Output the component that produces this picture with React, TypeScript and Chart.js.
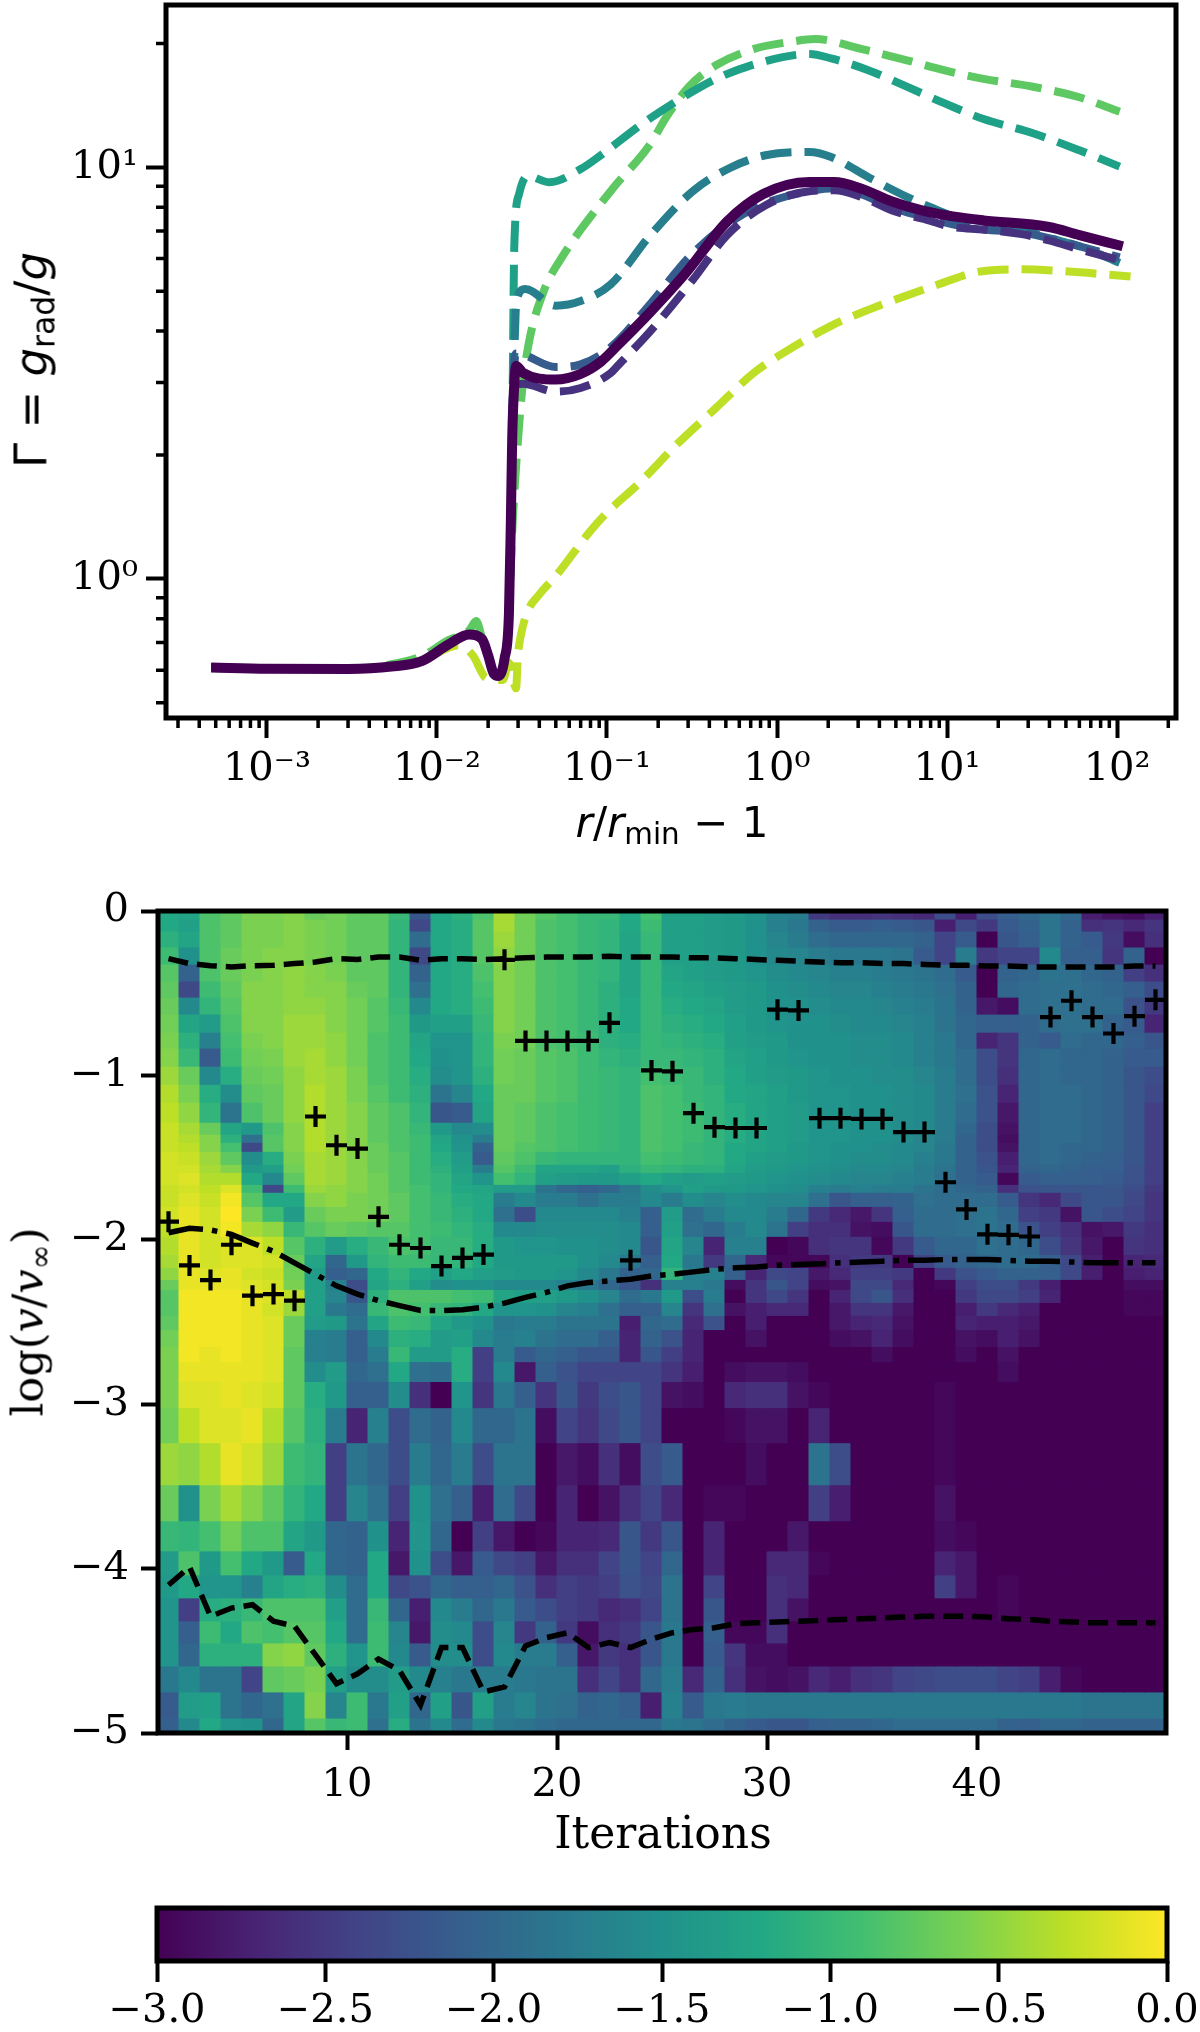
import { useEffect, useRef } from "react";
import { Chart, registerables } from "chart.js";

Chart.register(...registerables);

// top panel: shared start of every profile, r/rmin - 1 and Gamma
const sharedR = [4.7e-4, 1e-3, 3e-3, 5.4e-3, 8.2e-3, 1.17e-2, 1.55e-2, 1.84e-2, 2e-2, 2.16e-2, 2.3e-2, 2.5e-2, 2.65e-2, 2.72e-2, 2.77e-2];
const sharedG = [0.609, 0.605, 0.604, 0.612, 0.632, 0.693, 0.732, 0.714, 0.652, 0.588, 0.581, 0.641, 0.821, 1.38, 2.19];

const solidR = [...sharedR, 2.85e-2, 2.93e-2, 3.2e-2, 5e-2, 7e-2, 0.092, 0.116, 0.18, 0.288, 0.508, 0.83, 1.55, 2.17, 3.12, 4.75, 7.2, 10.8, 16.4, 39.8, 60, 108];
const solidG = [...sharedG, 2.98, 3.29, 3.17, 3.05, 3.15, 3.37, 3.7, 4.45, 5.51, 7.38, 8.61, 9.21, 9.21, 8.88, 8.26, 7.85, 7.6, 7.43, 7.16, 6.84, 6.43];

const purpleR = [...sharedR, 2.85e-2, 3.2e-2, 5e-2, 7e-2, 0.105, 0.116, 0.18, 0.32, 0.508, 0.857, 1.55, 2.17, 3.12, 4.75, 7.2, 10.8, 16.4, 27.5, 39.8, 60, 103.5];
const purpleG = [...sharedG, 2.9, 2.98, 2.85, 2.91, 3.16, 3.3, 4.0, 5.33, 6.84, 8.09, 8.75, 8.79, 8.48, 7.86, 7.5, 7.16, 7.06, 6.88, 6.64, 6.32, 5.95];

const blueR = [...sharedR, 2.85e-2, 2.93e-2, 5e-2, 7e-2, 0.105, 0.18, 0.303, 0.508, 0.857, 1.55, 2.17, 3.12, 4.75, 7.2, 10.8, 16.4, 27.5, 39.8, 60, 103.5];
const blueG = [...sharedG, 3.3, 3.53, 3.27, 3.32, 3.65, 4.66, 6.04, 7.27, 8.18, 8.75, 8.89, 8.61, 7.98, 7.6, 7.27, 7.06, 6.95, 6.73, 6.43, 6.04];

const tealR = [...sharedR, 2.85e-2, 2.93e-2, 3.3e-2, 5e-2, 7e-2, 0.105, 0.18, 0.32, 0.537, 0.857, 1.55, 2.08, 3.47, 5.8, 8.85, 10.8, 16.4, 27.5, 39.8, 60, 103.5];
const tealG = [...sharedG, 3.5, 4.73, 5.06, 4.61, 4.73, 5.19, 6.84, 8.75, 10.0, 10.7, 10.9, 10.6, 9.45, 8.48, 7.86, 7.6, 7.39, 7.06, 6.73, 6.43, 5.86];

const seaR = [...sharedR, 2.85e-2, 3.04e-2, 3.4e-2, 4.6e-2, 7e-2, 0.092, 0.163, 0.272, 0.437, 0.81, 1.55, 2.08, 3.47, 5.8, 9.7, 16.4, 32, 60, 103.5];
const seaG = [...sharedG, 6.42, 8.61, 9.53, 9.2, 9.9, 10.7, 12.8, 14.7, 16.4, 18.0, 18.85, 18.4, 17.2, 15.7, 14.3, 13.1, 12.1, 11.0, 10.04];

const greenR = [4.7e-4, 1e-3, 3e-3, 5.4e-3, 8.2e-3, 1.17e-2, 1.55e-2, 1.7e-2, 1.84e-2, 2e-2, 2.16e-2, 2.3e-2, 2.5e-2, 2.65e-2, 2.77e-2, 3e-2, 3.2e-2, 3.5e-2, 4.27e-2, 5.3e-2, 0.105, 0.18, 0.222, 0.303, 0.437, 0.733, 1.22, 1.67, 3.12, 5.8, 9.7, 16.4, 32, 60, 103.5];
const greenG = [0.609, 0.605, 0.604, 0.62, 0.65, 0.71, 0.75, 0.79, 0.72, 0.65, 0.59, 0.58, 0.64, 0.82, 1.3, 2.19, 2.98, 3.81, 5.03, 5.95, 8.75, 11.4, 13.2, 15.7, 17.7, 19.4, 20.2, 20.5, 19.4, 18.2, 17.2, 16.4, 15.7, 14.8, 13.65];

const limeR = [4.7e-4, 1e-3, 3e-3, 5.4e-3, 8.2e-3, 1.17e-2, 1.33e-2, 1.62e-2, 1.95e-2, 2.44e-2, 2.65e-2, 2.92e-2, 2.99e-2, 3.12e-2, 3.41e-2, 3.98e-2, 5.04e-2, 0.079, 0.097, 0.155, 0.26, 0.437, 0.733, 1.22, 2.08, 3.47, 5.8, 9.7, 14.8, 27.5, 46, 120];
const limeG = [0.609, 0.605, 0.604, 0.615, 0.635, 0.68, 0.69, 0.653, 0.574, 0.568, 0.624, 0.542, 0.647, 0.731, 0.833, 0.914, 1.02, 1.3, 1.43, 1.71, 2.13, 2.6, 3.17, 3.64, 4.12, 4.51, 4.88, 5.26, 5.56, 5.65, 5.6, 5.43];

const rMajorTicks = [1e-3, 1e-2, 1e-1, 1, 10, 100];
const rMinorTicks = [3e-4, 4e-4, 5e-4, 6e-4, 7e-4, 8e-4, 9e-4, 2e-3, 3e-3, 4e-3, 5e-3, 6e-3, 7e-3, 8e-3, 9e-3, 2e-2, 3e-2, 4e-2, 5e-2, 6e-2, 7e-2, 8e-2, 9e-2, 0.2, 0.3, 0.4, 0.5, 0.6, 0.7, 0.8, 0.9, 2, 3, 4, 5, 6, 7, 8, 9, 20, 30, 40, 50, 60, 70, 80, 90, 200];
const gMajorTicks = [1, 10];
const gMinorTicks = [0.5, 0.6, 0.7, 0.8, 0.9, 2, 3, 4, 5, 6, 7, 8, 9, 20];

// heat map: iteration centres, row edges in log(v/vinf), log values per row
const iterations = [1.5, 2.5, 3.5, 4.5, 5.5, 6.5, 7.5, 8.5, 9.5, 10.5, 11.5, 12.5, 13.5, 14.5, 15.5, 16.5, 17.5, 18.5, 19.5, 20.5, 21.5, 22.5, 23.5, 24.5, 25.5, 26.5, 27.5, 28.5, 29.5, 30.5, 31.5, 32.5, 33.5, 34.5, 35.5, 36.5, 37.5, 38.5, 39.5, 40.5, 41.5, 42.5, 43.5, 44.5, 45.5, 46.5, 47.5, 48.5];
const rowEdges = [0, -0.049, -0.122, -0.219, -0.323, -0.426, -0.524, -0.627, -0.737, -0.834, -0.944, -1.054, -1.163, -1.285, -1.358, -1.407, -1.462, -1.541, -1.59, -1.663, -1.711, -1.797, -1.888, -1.979, -2.089, -2.168, -2.241, -2.302, -2.381, -2.46, -2.546, -2.649, -2.741, -2.862, -3.021, -3.234, -3.49, -3.709, -3.892, -4.038, -4.178, -4.318, -4.452, -4.592, -4.75, -4.909, -5];
const heatRows = [
  [-1.2, -1.25, -0.85, -0.75, -0.6, -0.6, -0.55, -0.7, -0.65, -0.75, -0.75, -1.0, -2.2, -1.2, -1.1, -0.85, -0.4, -0.65, -0.8, -0.9, -1.0, -1.0, -1.2, -0.9, -1.3, -1.3, -1.35, -1.4, -1.5, -1.7, -1.75, -2.5, -2.6, -2.6, -2.55, -2.6, -2.65, -2.3, -2.75, -2.3, -2.1, -2.0, -1.85, -2.0, -2.75, -2.85, -2.9, -2.75],
  [-1.2, -1.3, -0.85, -0.75, -0.6, -0.6, -0.55, -0.6, -0.65, -0.75, -0.75, -1.05, -2.35, -1.2, -1.15, -0.8, -0.4, -0.65, -0.85, -0.9, -1.0, -1.05, -1.2, -0.95, -1.3, -1.3, -1.35, -1.4, -1.5, -1.7, -1.8, -2.05, -2.15, -2.15, -2.1, -2.15, -2.2, -2.75, -2.35, -2.5, -2.15, -2.05, -1.85, -2.05, -2.6, -2.55, -2.65, -2.55],
  [-1.1, -1.25, -0.85, -0.75, -0.6, -0.6, -0.55, -0.6, -0.65, -0.75, -0.75, -1.05, -1.95, -1.2, -1.15, -0.8, -0.45, -0.65, -0.85, -0.9, -1.0, -1.05, -1.25, -1.0, -1.3, -1.3, -1.35, -1.4, -1.5, -1.65, -1.75, -1.95, -2.0, -2.0, -2.0, -2.0, -2.05, -2.4, -2.15, -3.0, -2.2, -2.1, -1.85, -2.05, -2.15, -2.5, -2.9, -2.6],
  [-0.95, -1.5, -0.85, -0.7, -0.6, -0.55, -0.55, -0.6, -0.65, -0.75, -0.75, -1.05, -2.35, -1.2, -1.15, -0.8, -0.5, -0.65, -0.85, -0.9, -1.0, -1.05, -1.25, -1.0, -1.3, -1.3, -1.35, -1.4, -1.5, -1.6, -1.65, -1.75, -1.8, -1.8, -1.8, -1.85, -2.15, -2.4, -1.75, -2.5, -2.4, -2.4, -1.6, -2.1, -2.1, -2.55, -2.05, -3.0],
  [-0.8, -2.05, -0.85, -0.7, -0.6, -0.55, -0.5, -0.55, -0.6, -0.75, -0.75, -1.05, -2.05, -1.2, -1.15, -0.85, -0.55, -0.65, -0.85, -0.9, -1.0, -1.05, -1.25, -1.0, -1.25, -1.3, -1.35, -1.4, -1.45, -1.55, -1.6, -1.65, -1.7, -1.7, -1.75, -1.8, -1.85, -1.95, -2.15, -3.0, -2.05, -2.0, -1.85, -1.9, -2.0, -2.05, -2.45, -2.6],
  [-0.75, -2.35, -0.95, -0.75, -0.55, -0.55, -0.5, -0.55, -0.55, -0.7, -0.75, -1.05, -1.9, -1.2, -1.15, -0.9, -0.55, -0.65, -0.85, -0.9, -1.0, -1.1, -1.25, -1.0, -1.2, -1.25, -1.3, -1.35, -1.4, -1.5, -1.55, -1.6, -1.65, -1.65, -1.7, -1.75, -1.8, -1.9, -2.05, -3.0, -2.0, -1.95, -1.9, -1.9, -1.95, -2.0, -2.1, -2.3],
  [-0.7, -1.6, -1.05, -0.8, -0.55, -0.55, -0.5, -0.5, -0.55, -0.65, -0.8, -1.0, -1.6, -1.2, -1.15, -0.95, -0.55, -0.65, -0.85, -0.9, -1.0, -1.1, -1.2, -1.0, -1.15, -1.2, -1.25, -1.35, -1.4, -1.5, -1.5, -1.55, -1.6, -1.6, -1.65, -1.7, -1.75, -1.85, -2.05, -2.8, -2.9, -1.95, -1.9, -1.9, -1.95, -1.95, -2.25, -2.5],
  [-0.65, -1.25, -1.35, -0.85, -0.55, -0.55, -0.45, -0.45, -0.55, -0.65, -0.8, -0.95, -1.4, -1.3, -1.3, -1.0, -0.55, -0.65, -0.85, -0.9, -1.0, -1.1, -1.2, -1.0, -1.1, -1.15, -1.2, -1.3, -1.4, -1.45, -1.5, -1.5, -1.55, -1.6, -1.6, -1.65, -1.7, -1.85, -2.0, -2.1, -2.1, -2.05, -1.95, -1.9, -1.9, -2.05, -2.15, -2.7],
  [-0.6, -1.1, -1.7, -0.9, -0.6, -0.55, -0.45, -0.45, -0.5, -0.65, -0.85, -0.95, -1.25, -1.45, -1.45, -1.05, -0.6, -0.65, -0.85, -0.9, -0.95, -1.1, -1.15, -1.0, -1.05, -1.1, -1.15, -1.3, -1.35, -1.4, -1.5, -1.5, -1.5, -1.55, -1.55, -1.6, -1.7, -1.8, -2.0, -2.7, -2.55, -2.05, -2.15, -1.95, -2.0, -2.0, -2.1, -2.2],
  [-0.55, -1.0, -2.15, -0.95, -0.65, -0.6, -0.45, -0.4, -0.5, -0.65, -0.85, -0.95, -1.2, -1.5, -1.45, -1.05, -0.65, -0.7, -0.8, -0.85, -0.95, -1.05, -1.1, -1.0, -1.0, -1.05, -1.1, -1.25, -1.3, -1.4, -1.45, -1.5, -1.5, -1.55, -1.55, -1.6, -1.7, -1.8, -1.95, -2.3, -2.55, -2.0, -1.95, -2.0, -2.0, -2.05, -2.15, -2.15],
  [-0.45, -0.7, -1.6, -1.15, -0.7, -0.65, -0.5, -0.4, -0.45, -0.6, -0.85, -0.95, -1.15, -1.55, -1.45, -1.1, -0.65, -0.7, -0.8, -0.85, -0.95, -1.0, -1.05, -0.9, -0.95, -1.0, -1.1, -1.2, -1.3, -1.35, -1.4, -1.45, -1.5, -1.5, -1.55, -1.55, -1.65, -1.75, -1.95, -2.3, -2.6, -2.0, -1.95, -2.0, -2.0, -2.05, -2.2, -2.3],
  [-0.35, -0.6, -1.15, -1.55, -0.75, -0.7, -0.5, -0.35, -0.45, -0.6, -0.8, -0.95, -1.1, -1.85, -1.65, -1.2, -0.7, -0.7, -0.8, -0.85, -0.95, -1.0, -1.05, -0.85, -0.9, -1.0, -1.05, -1.2, -1.25, -1.3, -1.4, -1.45, -1.45, -1.5, -1.5, -1.55, -1.6, -1.75, -1.9, -2.25, -2.7, -2.0, -1.95, -1.95, -2.0, -2.05, -2.2, -2.35],
  [-0.3, -0.5, -1.05, -1.85, -0.85, -0.7, -0.5, -0.35, -0.45, -0.55, -0.75, -0.85, -1.05, -2.2, -2.15, -1.25, -0.7, -0.75, -0.85, -0.9, -0.95, -1.0, -1.05, -0.85, -0.9, -0.95, -1.05, -1.15, -1.25, -1.3, -1.35, -1.45, -1.45, -1.5, -1.5, -1.55, -1.6, -1.75, -1.95, -2.25, -2.8, -2.0, -1.95, -1.95, -2.0, -2.05, -2.2, -2.45],
  [-0.25, -0.4, -0.7, -1.25, -1.4, -0.85, -0.55, -0.35, -0.45, -0.55, -0.75, -0.85, -1.0, -1.4, -1.6, -1.55, -0.7, -0.75, -0.85, -0.9, -0.95, -1.0, -1.05, -0.85, -0.9, -0.95, -1.05, -1.15, -1.25, -1.3, -1.35, -1.45, -1.45, -1.5, -1.5, -1.55, -1.6, -1.75, -2.0, -2.3, -2.85, -2.0, -1.95, -1.95, -2.0, -2.05, -2.2, -2.45],
  [-0.25, -0.35, -0.55, -1.1, -1.9, -0.8, -0.55, -0.35, -0.45, -0.55, -0.75, -0.85, -0.95, -1.25, -1.5, -1.75, -0.7, -0.75, -0.85, -0.9, -0.95, -1.0, -1.05, -0.85, -0.9, -0.95, -1.05, -1.15, -1.25, -1.3, -1.35, -1.45, -1.45, -1.5, -1.5, -1.55, -1.65, -1.75, -2.05, -2.3, -2.9, -2.0, -1.95, -1.95, -2.0, -2.05, -2.2, -2.45],
  [-0.25, -0.3, -0.55, -0.9, -2.35, -0.8, -0.55, -0.35, -0.45, -0.55, -0.7, -0.85, -0.95, -1.2, -1.45, -2.05, -0.7, -0.8, -0.85, -0.9, -0.95, -1.0, -1.05, -0.85, -0.9, -1.0, -1.05, -1.2, -1.25, -1.3, -1.4, -1.45, -1.5, -1.5, -1.55, -1.6, -1.65, -1.8, -2.05, -2.3, -2.85, -2.0, -1.95, -2.0, -2.0, -2.05, -2.2, -2.45],
  [-0.2, -0.25, -0.45, -0.75, -1.55, -1.15, -0.6, -0.4, -0.45, -0.55, -0.7, -0.8, -0.95, -1.15, -1.35, -2.15, -0.75, -0.85, -1.0, -1.05, -1.05, -1.05, -1.05, -0.9, -0.95, -1.0, -1.05, -1.2, -1.3, -1.35, -1.4, -1.45, -1.5, -1.55, -1.55, -1.6, -1.7, -1.8, -2.05, -2.25, -2.75, -2.0, -1.95, -2.0, -2.05, -2.1, -2.2, -2.45],
  [-0.2, -0.2, -0.4, -0.55, -1.4, -1.3, -0.65, -0.4, -0.45, -0.55, -0.7, -0.8, -0.95, -1.1, -1.3, -1.75, -0.8, -0.95, -1.25, -1.25, -1.25, -1.3, -1.1, -1.0, -1.05, -1.1, -1.1, -1.25, -1.35, -1.4, -1.45, -1.5, -1.55, -1.6, -1.6, -1.65, -1.75, -1.85, -2.05, -2.2, -2.7, -2.05, -2.0, -2.05, -2.1, -2.1, -2.25, -2.45],
  [-0.2, -0.15, -0.35, -0.35, -1.2, -1.6, -0.75, -0.4, -0.45, -0.55, -0.65, -0.8, -0.95, -1.05, -1.25, -1.45, -0.9, -1.05, -1.3, -1.35, -1.4, -1.4, -1.3, -1.2, -1.3, -1.35, -1.3, -1.35, -1.4, -1.45, -1.5, -1.55, -1.6, -1.65, -1.65, -1.7, -1.75, -1.9, -2.05, -2.15, -2.95, -2.15, -2.1, -2.1, -2.1, -2.15, -2.25, -2.45],
  [-0.25, -0.2, -0.3, -0.15, -0.95, -2.35, -0.95, -0.45, -0.5, -0.55, -0.65, -0.8, -0.9, -1.05, -1.2, -1.25, -1.35, -1.35, -1.85, -2.0, -2.1, -2.0, -1.8, -1.55, -1.45, -1.3, -1.4, -1.4, -1.45, -1.5, -1.55, -1.7, -1.75, -1.7, -1.75, -1.75, -1.85, -1.95, -2.0, -2.05, -2.6, -2.25, -2.2, -2.2, -2.2, -2.2, -2.3, -2.5],
  [-0.25, -0.15, -0.25, -0.05, -0.8, -1.2, -1.2, -0.55, -0.5, -0.6, -0.65, -0.75, -0.9, -1.0, -1.15, -1.2, -1.75, -1.6, -1.75, -1.75, -1.9, -1.75, -1.75, -1.6, -1.75, -1.55, -1.65, -1.55, -1.6, -1.65, -1.65, -1.9, -2.2, -2.1, -2.1, -2.05, -1.9, -1.95, -1.95, -1.95, -2.15, -2.55, -2.65, -2.35, -2.2, -2.2, -2.35, -2.55],
  [-0.2, -0.1, -0.2, 0, -0.6, -0.95, -1.35, -0.7, -0.6, -0.6, -0.65, -0.75, -0.9, -1.0, -1.1, -1.2, -1.9, -2.3, -1.6, -1.6, -1.6, -1.6, -1.7, -2.1, -1.35, -1.95, -1.75, -1.6, -1.6, -1.75, -2.0, -2.5, -2.65, -2.8, -2.55, -2.1, -1.95, -1.95, -1.9, -1.85, -2.0, -2.45, -2.5, -2.85, -2.2, -2.3, -2.4, -2.55],
  [-0.3, -0.1, -0.2, -0.05, -0.4, -0.5, -1.0, -0.8, -0.7, -0.75, -0.8, -0.8, -0.9, -0.95, -1.05, -1.15, -1.6, -1.6, -1.55, -1.55, -1.55, -1.55, -1.6, -2.1, -1.3, -1.9, -2.0, -1.75, -1.6, -1.85, -2.45, -2.6, -2.6, -2.85, -2.9, -2.2, -1.95, -1.95, -1.9, -1.85, -1.95, -2.25, -2.45, -2.6, -2.85, -2.8, -2.5, -2.6],
  [-0.35, -0.1, -0.2, -0.15, -0.15, -0.3, -0.8, -1.1, -1.35, -1.15, -1.0, -0.85, -0.9, -1.0, -1.0, -1.15, -1.4, -1.45, -1.45, -1.5, -1.5, -1.55, -1.6, -2.2, -1.25, -1.65, -2.7, -1.7, -1.7, -3.0, -2.95, -2.6, -2.55, -2.55, -2.95, -2.5, -2.15, -2.0, -2.0, -1.9, -1.95, -2.0, -2.3, -2.55, -2.8, -3.0, -2.55, -2.6],
  [-0.4, -0.1, -0.2, -0.15, -0.15, -0.2, -0.7, -1.25, -2.0, -1.4, -1.05, -0.95, -0.95, -1.0, -1.05, -1.2, -1.4, -1.4, -1.4, -1.4, -1.5, -1.6, -1.8, -2.1, -1.2, -1.8, -2.5, -2.0, -2.65, -2.95, -2.95, -2.95, -2.6, -2.5, -2.5, -3.0, -2.4, -2.15, -2.05, -2.0, -1.95, -1.95, -2.1, -2.35, -2.75, -3.0, -2.7, -2.65],
  [-0.5, -0.1, -0.15, -0.1, -0.2, -0.25, -0.65, -1.35, -2.1, -2.0, -1.2, -1.05, -1.2, -1.3, -1.2, -1.3, -1.35, -1.4, -1.4, -1.45, -1.6, -1.8, -2.05, -2.0, -1.05, -1.7, -1.7, -2.1, -2.7, -2.35, -2.4, -2.8, -2.65, -2.45, -2.45, -2.5, -3.0, -2.5, -2.25, -2.15, -2.05, -2.05, -2.1, -2.35, -2.75, -3.0, -2.75, -2.7],
  [-0.7, -0.1, -0.1, -0.1, -0.15, -0.2, -0.6, -1.3, -1.7, -2.3, -1.25, -1.1, -1.3, -1.55, -1.5, -1.5, -1.6, -1.6, -1.6, -1.7, -1.8, -2.0, -2.2, -2.6, -1.7, -1.7, -1.8, -2.9, -2.55, -2.2, -2.4, -2.9, -2.85, -2.35, -2.35, -2.65, -3.0, -2.95, -2.45, -2.3, -2.3, -2.5, -2.75, -3.0, -3.0, -3.0, -2.9, -2.9],
  [-0.8, -0.05, -0.05, -0.05, -0.1, -0.15, -0.3, -1.3, -1.65, -2.2, -1.1, -0.85, -0.85, -0.85, -0.9, -0.95, -1.25, -1.3, -1.3, -1.4, -1.5, -1.65, -1.95, -1.8, -1.4, -2.3, -1.75, -3.0, -2.55, -2.35, -2.55, -3.0, -2.7, -2.35, -2.2, -2.6, -3.0, -3.0, -2.5, -2.35, -2.35, -2.45, -2.7, -3.0, -3.0, -3.0, -2.95, -2.95],
  [-0.8, -0.05, -0.05, -0.05, -0.1, -0.2, -0.45, -1.3, -1.8, -1.95, -1.0, -0.85, -0.9, -1.0, -1.05, -1.2, -1.45, -1.45, -1.5, -1.65, -1.7, -1.9, -2.1, -2.1, -1.65, -2.55, -1.9, -2.85, -2.75, -2.65, -2.65, -3, -2.8, -2.55, -2.55, -2.8, -3, -3, -2.75, -2.5, -2.65, -2.75, -3, -3, -3, -3, -2.95, -2.95],
  [-0.75, -0.05, -0.05, -0.05, -0.1, -0.15, -0.7, -1.35, -1.4, -1.85, -1.25, -0.95, -1.0, -1.25, -1.4, -1.5, -1.8, -1.75, -1.75, -1.85, -1.85, -1.85, -2.75, -2.0, -1.95, -2.65, -2.25, -3, -2.75, -3, -3, -3, -2.8, -2.7, -2.65, -2.85, -3, -3, -2.7, -2.75, -2.75, -2.8, -3, -3, -3, -3, -3, -3],
  [-0.65, -0.05, -0.05, -0.05, -0.1, -0.15, -0.7, -1.7, -1.75, -2.1, -1.6, -1.1, -1.15, -1.35, -1.3, -1.6, -1.75, -1.7, -1.85, -1.95, -1.95, -2.1, -2.7, -2.05, -2.25, -2.7, -3, -3, -2.85, -3, -3, -3, -2.9, -2.85, -2.7, -2.9, -3, -3, -2.85, -2.9, -2.75, -2.85, -3, -3, -3, -3, -3, -3],
  [-0.6, -0.05, -0.1, -0.05, -0.1, -0.15, -0.75, -1.7, -1.75, -2.1, -1.75, -1.0, -1.35, -1.35, -1.15, -2.45, -1.75, -2.15, -2.0, -2.1, -2.2, -2.2, -2.7, -2.2, -2.45, -2.7, -3, -3, -3, -3, -3, -3, -3, -3, -2.9, -3, -3, -3, -2.9, -3, -2.85, -3, -3, -3, -3, -3, -3, -3],
  [-0.6, -0.1, -0.1, -0.1, -0.1, -0.15, -0.75, -1.55, -1.35, -2.0, -1.9, -1.2, -1.9, -1.95, -1.15, -2.45, -1.6, -2.8, -2.1, -2.25, -2.4, -2.4, -2.4, -2.4, -2.55, -2.75, -3, -2.9, -2.85, -2.85, -2.9, -3, -3, -3, -3, -3, -3, -3, -3, -3, -2.9, -3, -3, -3, -3, -3, -3, -3],
  [-0.6, -0.15, -0.15, -0.1, -0.15, -0.2, -0.75, -1.15, -1.4, -2.1, -2.1, -1.55, -2.6, -3.0, -1.45, -2.55, -1.8, -2.1, -2.55, -2.2, -2.5, -2.3, -2.2, -2.4, -2.85, -2.9, -3, -2.65, -2.6, -2.6, -2.85, -2.95, -3, -3, -3, -3, -3, -2.95, -3, -3, -3, -3, -3, -3, -3, -3, -3, -3],
  [-0.65, -0.3, -0.15, -0.15, -0.1, -0.35, -0.8, -1.1, -1.75, -2.7, -1.7, -2.3, -1.95, -2.05, -1.6, -2.0, -2.0, -1.85, -2.9, -2.4, -2.55, -2.35, -2.2, -2.4, -3, -3, -3, -2.95, -2.85, -2.85, -3, -2.7, -3, -3, -3, -3, -3, -2.95, -3, -3, -3, -3, -3, -3, -3, -3, -3, -3],
  [-0.45, -0.5, -0.35, -0.1, -0.2, -0.45, -0.95, -1.05, -2.45, -1.85, -2.0, -2.3, -1.75, -2.0, -1.75, -2.3, -1.85, -1.85, -3.0, -2.8, -2.9, -2.6, -2.9, -2.3, -2.15, -3, -3, -3, -2.9, -3, -3, -1.85, -2.3, -3, -3, -3, -3, -2.95, -3, -3, -3, -3, -3, -3, -3, -3, -3, -3],
  [-0.7, -1.5, -0.6, -0.4, -0.55, -0.75, -1.05, -1.2, -2.45, -1.65, -1.9, -2.45, -1.5, -1.9, -2.1, -2.75, -1.95, -2.35, -3.0, -2.7, -3.0, -2.85, -2.6, -2.4, -2.65, -3, -2.95, -2.95, -3, -3, -3, -2.45, -2.75, -3, -3, -3, -3, -2.85, -3, -3, -3, -3, -3, -3, -3, -3, -3, -3],
  [-1.0, -1.05, -0.9, -0.65, -0.85, -0.85, -1.25, -1.4, -2.0, -2.05, -1.5, -2.7, -1.45, -2.0, -3.0, -2.45, -2.8, -3.0, -2.95, -2.7, -2.7, -2.65, -2.2, -2.5, -2.2, -3, -2.7, -3, -3, -3, -2.8, -3, -3, -3, -3, -3, -3, -2.9, -2.95, -3, -3, -3, -3, -3, -3, -3, -3, -3],
  [-1.35, -0.85, -1.4, -0.9, -1.2, -1.4, -2.15, -1.2, -2.0, -2.05, -1.2, -2.8, -1.5, -2.3, -2.8, -2.15, -2.35, -2.45, -2.8, -2.6, -2.6, -2.4, -2.2, -2.4, -2.0, -3, -2.7, -3, -3, -2.65, -2.65, -2.95, -3, -3, -3, -3, -3, -2.7, -2.8, -3, -3, -3, -3, -3, -3, -3, -3, -3],
  [-1.4, -1.2, -1.45, -1.45, -1.7, -1.25, -1.15, -1.1, -1.55, -1.95, -1.2, -2.35, -2.25, -2.0, -2.1, -2.1, -2.0, -2.25, -2.6, -2.45, -2.5, -2.45, -2.25, -2.35, -1.85, -3, -2.4, -3, -3, -2.6, -2.65, -3, -3, -3, -3, -3, -3, -2.45, -2.8, -3, -2.95, -3, -3, -3, -3, -3, -3, -3],
  [-1.45, -2.45, -1.15, -1.1, -1.0, -0.85, -0.85, -0.85, -1.3, -1.95, -1.0, -2.0, -2.75, -1.6, -1.75, -2.0, -1.8, -2.15, -2.3, -2.45, -2.5, -2.65, -2.6, -2.4, -1.85, -3, -2.2, -3, -3, -2.6, -2.85, -3, -3, -3, -3, -3, -3, -3, -3, -3, -2.95, -3, -3, -3, -3, -3, -3, -3],
  [-1.45, -2.1, -0.95, -1.2, -0.85, -0.9, -0.8, -0.8, -1.2, -1.95, -0.95, -1.65, -2.8, -1.55, -1.6, -2.3, -1.65, -2.5, -2.05, -2.5, -2.9, -2.6, -2.5, -2.2, -1.8, -3, -2.1, -2.95, -2.95, -2.6, -3, -3, -3, -3, -3, -3, -3, -3, -3, -3, -3, -3, -3, -3, -3, -3, -3, -3],
  [-1.45, -2.0, -1.1, -1.1, -1.1, -0.55, -0.5, -0.75, -1.1, -1.45, -0.95, -1.6, -2.15, -1.55, -1.55, -2.3, -1.6, -1.75, -1.75, -2.1, -2.8, -2.5, -2.6, -2.2, -1.8, -3, -2.15, -2.55, -2.9, -2.9, -3, -3, -3, -3, -3, -3, -3, -3, -3, -3, -3, -3, -3, -3, -3, -3, -3, -3],
  [-1.8, -1.6, -1.85, -1.85, -2.4, -0.75, -0.7, -0.6, -1.3, -1.55, -1.55, -1.35, -1.6, -1.7, -1.8, -1.75, -1.75, -1.8, -1.85, -1.85, -2.6, -2.4, -2.6, -2.0, -1.75, -2.65, -2.05, -2.6, -2.85, -2.9, -2.85, -2.65, -2.75, -2.6, -2.55, -2.4, -2.35, -2.3, -2.3, -2.3, -2.4, -2.45, -2.75, -2.95, -3, -3, -3, -3],
  [-2.15, -1.35, -1.3, -1.85, -2.0, -1.9, -1.25, -0.55, -1.65, -0.95, -1.8, -1.3, -2.0, -1.3, -2.2, -1.3, -1.75, -1.65, -1.85, -1.9, -2.05, -2.0, -2.1, -2.75, -1.7, -2.15, -1.8, -1.75, -1.8, -1.8, -1.8, -1.8, -1.8, -1.8, -1.8, -1.8, -1.8, -1.8, -1.8, -1.8, -1.8, -1.8, -1.8, -1.8, -1.85, -1.85, -1.85, -1.85],
  [-2.1, -1.6, -1.2, -1.45, -1.5, -2.0, -1.25, -0.8, -1.0, -0.95, -1.9, -1.15, -1.85, -1.6, -1.95, -1.6, -1.8, -1.85, -1.95, -2.0, -2.0, -2.0, -2.0, -2.0, -1.8, -1.85, -1.95, -2.05, -2.15, -2.2, -2.2, -2.1, -2.05, -2.05, -2.0, -1.95, -1.95, -1.95, -1.95, -1.95, -2.05, -2.1, -2.0, -2.0, -2.05, -2.05, -2.05, -2.05],
];

// overlaid curves and the per-iteration markers
const upperDashed = [-0.29, -0.32, -0.333, -0.34, -0.333, -0.33, -0.32, -0.31, -0.29, -0.295, -0.28, -0.28, -0.3, -0.29, -0.29, -0.295, -0.29, -0.285, -0.28, -0.28, -0.28, -0.275, -0.28, -0.28, -0.28, -0.285, -0.285, -0.29, -0.295, -0.3, -0.305, -0.31, -0.315, -0.315, -0.32, -0.32, -0.325, -0.33, -0.33, -0.335, -0.335, -0.34, -0.34, -0.34, -0.34, -0.34, -0.335, -0.335];
const middleDashDot = [-1.957, -1.93, -1.94, -1.967, -2.02, -2.07, -2.14, -2.21, -2.28, -2.33, -2.37, -2.4, -2.43, -2.43, -2.425, -2.41, -2.385, -2.35, -2.32, -2.28, -2.26, -2.25, -2.24, -2.22, -2.21, -2.195, -2.18, -2.17, -2.165, -2.155, -2.15, -2.145, -2.14, -2.135, -2.13, -2.125, -2.125, -2.12, -2.12, -2.12, -2.125, -2.13, -2.13, -2.135, -2.14, -2.14, -2.14, -2.14];
const lowerDashed = [-4.1, -3.99, -4.29, -4.24, -4.22, -4.32, -4.35, -4.525, -4.7, -4.64, -4.55, -4.62, -4.83, -4.48, -4.48, -4.75, -4.72, -4.47, -4.42, -4.39, -4.48, -4.45, -4.48, -4.43, -4.39, -4.37, -4.36, -4.335, -4.33, -4.325, -4.32, -4.315, -4.31, -4.305, -4.3, -4.295, -4.29, -4.29, -4.29, -4.295, -4.305, -4.31, -4.32, -4.325, -4.33, -4.33, -4.33, -4.33];
const markerY = [-1.89, -2.156, -2.245, -2.03, -2.34, -2.33, -2.37, -1.25, -1.425, -1.445, -1.86, -2.03, -2.05, -2.16, -2.11, -2.09, -0.297, -0.79, -0.79, -0.79, -0.79, -0.68, -2.125, -0.97, -0.975, -1.23, -1.315, -1.32, -1.32, -0.6, -0.605, -1.26, -1.26, -1.265, -1.265, -1.345, -1.345, -1.65, -1.815, -1.967, -1.97, -1.98, -0.645, -0.546, -0.645, -0.745, -0.64, -0.54];

const heatYTicks = [-5, -4, -3, -2, -1, 0];
const heatXTicks = [10, 20, 30, 40];

const viridisStops = ["#440154", "#482475", "#414487", "#355f8d", "#2a788e", "#21918c", "#22a884", "#44bf70", "#7ad151", "#bddf26", "#fde725"];

function viridis(value: number): string {
  const t = Math.min(1, Math.max(0, (value + 3) / 3)) * (viridisStops.length - 1);
  const i = Math.min(viridisStops.length - 2, Math.floor(t));
  const hex = (s: string, k: number) => parseInt(s.slice(1 + k * 2, 3 + k * 2), 16);
  const mix = [0, 1, 2].map((k) => Math.round(hex(viridisStops[i], k) + (hex(viridisStops[i + 1], k) - hex(viridisStops[i], k)) * (t - i)));
  return `rgb(${mix[0]},${mix[1]},${mix[2]})`;
}

function zip(xs: number[], ys: number[]) {
  return xs.map((x, i) => ({ x, y: ys[i] }));
}

function powerLabel(v: number): string {
  const sup: Record<string, string> = { "-": "⁻", "0": "⁰", "1": "¹", "2": "²", "3": "³" };
  const exp = String(Math.round(Math.log10(v)));
  return "10" + exp.split("").map((c) => sup[c]).join("");
}

const minus = (s: string) => s.replace("-", "−");

// axes box plus the short log minor ticks, which chart.js has no option for
function framePlugin(xMinor: number[] = [], yMinor: number[] = [], minorLen = 10) {
  return {
    id: "frame",
    afterDatasetsDraw(chart: any) {
      const { ctx, chartArea: a, scales } = chart;
      ctx.save();
      ctx.strokeStyle = "#000";
      ctx.lineWidth = 3.5;
      ctx.beginPath();
      xMinor.forEach((v) => {
        const px = scales.x.getPixelForValue(v);
        ctx.moveTo(px, a.bottom);
        ctx.lineTo(px, a.bottom + minorLen);
      });
      yMinor.forEach((v) => {
        const py = scales.y.getPixelForValue(v);
        ctx.moveTo(a.left, py);
        ctx.lineTo(a.left - minorLen, py);
      });
      ctx.stroke();
      ctx.lineWidth = 5;
      ctx.strokeRect(a.left, a.top, a.right - a.left, a.bottom - a.top);
      ctx.restore();
    },
  };
}

const serif = "'DejaVu Serif', serif";
const tickFont = { family: serif, size: 40 };

function tickGrid(len: number) {
  return { display: true, drawOnChartArea: false, drawTicks: true, tickLength: len, tickWidth: 4, tickColor: "#000" };
}

const baseOptions = {
  responsive: false,
  animation: false as const,
  events: [],
  plugins: { legend: { display: false }, tooltip: { enabled: false } },
};

function Label({ x, y, rotate, size, children, font }: { x: number; y: number; rotate?: boolean; size: number; font: string; children: React.ReactNode }) {
  return (
    <div
      style={{
        position: "absolute",
        left: x,
        top: y,
        transform: `translate(-50%, -50%)${rotate ? " rotate(-90deg)" : ""}`,
        whiteSpace: "nowrap",
        fontFamily: font,
        fontSize: size,
        lineHeight: 1,
        color: "#000",
      }}
    >
      {children}
    </div>
  );
}

const subStyle = { fontSize: "0.7em", verticalAlign: "-0.25em", lineHeight: 0 };

export default function App() {
  const topRef = useRef<HTMLCanvasElement>(null);
  const heatRef = useRef<HTMLCanvasElement>(null);
  const barRef = useRef<HTMLCanvasElement>(null);

  useEffect(() => {
    if (!topRef.current || !heatRef.current || !barRef.current) return;

    const profile = (xs: number[], ys: number[], color: string, solid = false) => ({
      data: zip(xs, ys),
      borderColor: color,
      borderWidth: solid ? 10 : 8,
      borderDash: solid ? [] : [31, 13],
      pointRadius: 0,
      cubicInterpolationMode: "monotone" as const,
      borderJoinStyle: "round" as const,
      borderCapStyle: "butt" as const,
    });

    const topChart = new Chart(topRef.current, {
      type: "line",
      data: {
        datasets: [
          profile(solidR, solidG, "#440154", true),
          profile(purpleR, purpleG, "#46327e"),
          profile(blueR, blueG, "#365c8d"),
          profile(tealR, tealG, "#277f8e"),
          profile(seaR, seaG, "#1fa187"),
          profile(greenR, greenG, "#5ec962"),
          profile(limeR, limeG, "#bddf26"),
        ],
      },
      options: {
        ...baseOptions,
        layout: { padding: { top: 5, right: 24, left: 0, bottom: 0 } },
        scales: {
          x: {
            type: "logarithmic",
            min: 2.55e-4,
            max: 222,
            afterBuildTicks: (s: any) => {
              s.ticks = rMajorTicks.map((value) => ({ value, major: true }));
            },
            afterFit: (s: any) => {
              s.height = 142;
            },
            grid: tickGrid(20),
            border: { display: false },
            ticks: { font: tickFont, color: "#000", padding: 8, maxRotation: 0, autoSkip: false, callback: (v: any) => powerLabel(Number(v)) },
          },
          y: {
            type: "logarithmic",
            min: 0.459,
            max: 24.8,
            afterBuildTicks: (s: any) => {
              s.ticks = gMajorTicks.map((value) => ({ value, major: true }));
            },
            afterFit: (s: any) => {
              s.width = 166;
              s.paddingTop = 0;
              s.paddingBottom = 0;
            },
            grid: tickGrid(20),
            border: { display: false },
            ticks: { font: tickFont, color: "#000", padding: 8, autoSkip: false, callback: (v: any) => powerLabel(Number(v)) },
          },
        },
      } as any,
      plugins: [framePlugin(rMinorTicks, gMinorTicks)],
    });

    const cellDatasets = heatRows.map((row, r) => ({
      type: "bar" as const,
      data: iterations.map((x) => ({ x, y: [rowEdges[r + 1], rowEdges[r]] })),
      backgroundColor: row.map(viridis),
      borderWidth: 0,
      grouped: false,
      barPercentage: 1,
      categoryPercentage: 1,
      inflateAmount: 0.5,
    }));
    const overlay = (ys: number[], dash: number[]) => ({
      type: "line" as const,
      data: zip(iterations, ys),
      borderColor: "#000",
      borderWidth: 5.5,
      borderDash: dash,
      pointRadius: 0,
      tension: 0,
    });

    const heatChart = new Chart(heatRef.current, {
      type: "bar",
      data: {
        datasets: [
          {
            type: "line" as const,
            data: zip(iterations, markerY),
            showLine: false,
            pointStyle: "cross",
            pointRadius: 10.5,
            pointBorderWidth: 4.2,
            pointBorderColor: "#000",
            borderColor: "#000",
          },
          overlay(upperDashed, [20, 9]),
          overlay(middleDashDot, [35, 9, 5.5, 9]),
          overlay(lowerDashed, [20, 9]),
          ...cellDatasets,
        ],
      } as any,
      options: {
        ...baseOptions,
        layout: { padding: { top: 31, right: 34, left: 0, bottom: 0 } },
        scales: {
          x: {
            type: "linear",
            min: 1,
            max: 49,
            offset: false,
            afterBuildTicks: (s: any) => {
              s.ticks = heatXTicks.map((value) => ({ value }));
            },
            afterFit: (s: any) => {
              s.height = 147;
              s.paddingLeft = 0;
              s.paddingRight = 0;
            },
            grid: { ...tickGrid(17), offset: false },
            border: { display: false },
            ticks: { font: tickFont, color: "#000", padding: 12, maxRotation: 0, autoSkip: false },
          },
          y: {
            type: "linear",
            min: -5,
            max: 0,
            afterBuildTicks: (s: any) => {
              s.ticks = heatYTicks.map((value) => ({ value }));
            },
            afterFit: (s: any) => {
              s.width = 158;
              s.paddingTop = 0;
              s.paddingBottom = 0;
            },
            grid: tickGrid(17),
            border: { display: false },
            ticks: { font: tickFont, color: "#000", padding: 12, autoSkip: false, callback: (v: any) => minus(String(v)) },
          },
        },
      } as any,
      plugins: [framePlugin()],
    });

    const barChart = new Chart(barRef.current, {
      type: "scatter",
      data: { datasets: [] },
      options: {
        ...baseOptions,
        layout: { padding: { top: 28, right: 33, left: 157, bottom: 0 } },
        scales: {
          x: {
            type: "linear",
            min: -3,
            max: 0,
            afterFit: (s: any) => {
              s.height = 71;
              s.paddingLeft = 0;
              s.paddingRight = 0;
            },
            grid: tickGrid(21),
            border: { display: false },
            ticks: { font: tickFont, color: "#000", padding: 6, stepSize: 0.5, maxRotation: 0, autoSkip: false, callback: (v: any) => minus(Number(v).toFixed(1)) },
          },
          y: { display: false, min: 0, max: 1 },
        },
      } as any,
      plugins: [
        {
          id: "ramp",
          beforeDatasetsDraw(chart: any) {
            const { ctx, chartArea: a, scales } = chart;
            const g = ctx.createLinearGradient(scales.x.getPixelForValue(-3), 0, scales.x.getPixelForValue(0), 0);
            viridisStops.forEach((c, i) => g.addColorStop(i / (viridisStops.length - 1), c));
            ctx.fillStyle = g;
            ctx.fillRect(a.left, a.top, a.right - a.left, a.bottom - a.top);
          },
        },
        framePlugin(),
      ],
    });

    return () => {
      topChart.destroy();
      heatChart.destroy();
      barChart.destroy();
    };
  }, []);

  return (
    <div style={{ position: "relative", width: 1200, height: 2032, background: "#fff", overflow: "hidden" }}>
      <style>{"body{margin:0}"}</style>
      <canvas ref={topRef} width={1200} height={860} style={{ position: "absolute", left: 0, top: 0 }} />
      <canvas ref={heatRef} width={1200} height={1000} style={{ position: "absolute", left: 0, top: 880 }} />
      <canvas ref={barRef} width={1200} height={152} style={{ position: "absolute", left: 0, top: 1880 }} />
      <Label x={31} y={360} rotate size={45} font="'DejaVu Sans', sans-serif">
        Γ = <i>g</i>
        <span style={subStyle}>rad</span>/<i>g</i>
      </Label>
      <Label x={672} y={823} size={42} font="'DejaVu Sans', sans-serif">
        <i>r</i>/<i>r</i>
        <span style={subStyle}>min</span> − 1
      </Label>
      <Label x={28} y={1322} rotate size={43} font={serif}>
        log(<i>v</i>/<i>v</i>
        <span style={subStyle}>∞</span>)
      </Label>
      <Label x={663} y={1833} size={44} font={serif}>
        Iterations
      </Label>
    </div>
  );
}
